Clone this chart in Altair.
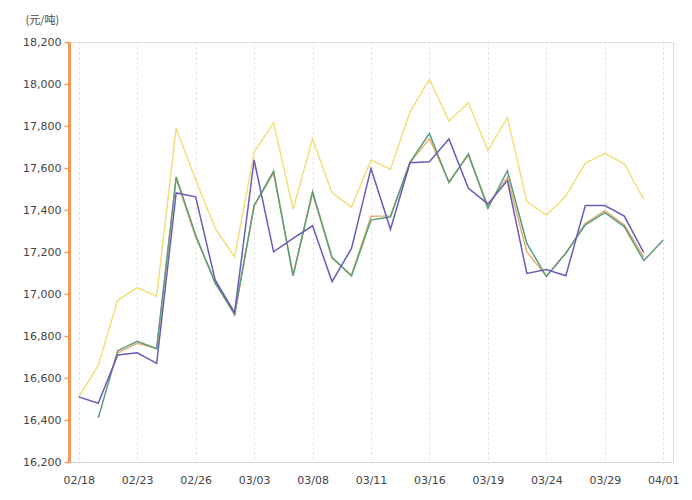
import altair as alt
import pandas as pd

dates = ["02/18", "02/19", "02/22", "02/23", "02/24", "02/25", "02/26", "03/01",
         "03/02", "03/03", "03/04", "03/05", "03/08", "03/09", "03/10", "03/11",
         "03/12", "03/15", "03/16", "03/17", "03/18", "03/19", "03/22", "03/23",
         "03/24", "03/25", "03/26", "03/29", "03/30", "03/31", "04/01"]

yellow = [16510, 16660, 16970, 17030, 16990, 17790, 17543, 17314, 17176, 17674,
          17816, 17405, 17737, 17483, 17413, 17638, 17594, 17867, 18022, 17824,
          17911, 17683, 17841, 17440, 17376, 17467, 17622, 17670, 17619, 17451, None]
tan = [None, None, 16720, 16765, 16740, 17550, 17270, 17060, 16900, 17420,
       17575, 17090, 17480, 17170, 17090, 17370, 17372, 17625, 17740, 17535,
       17660, 17420, 17556, 17200, 17085, 17195, 17337, 17397, 17330, 17175, None]
green = [None, 16410, 16730, 16775, 16740, 17557, 17281, 17052, 16905, 17421,
         17585, 17086, 17487, 17175, 17086, 17352, 17368, 17627, 17765, 17530,
         17667, 17408, 17587, 17241, 17083, 17194, 17329, 17387, 17321, 17159, 17257]
purple = [16510, 16480, 16710, 16720, 16670, 17481, 17463, 17067, 16911, 17638,
          17201, 17265, 17325, 17059, 17217, 17598, 17308, 17625, 17630, 17738,
          17503, 17429, 17540, 17098, 17117, 17087, 17421, 17421, 17371, 17197, None]

series = [("S1", yellow), ("S2", tan), ("S3", green), ("S4", purple)]
colors = ["#F0E07A", "#E2B070", "#5C9C7A", "#6A5CB8"]

rows = []
for name, vals in series:
    for d, v in zip(dates, vals):
        if v is not None:
            rows.append({"date": d, "series": name, "value": v})
df = pd.DataFrame(rows)

tick_dates = dates[::3]

chart = alt.Chart(df).mark_line(strokeWidth=1.5).encode(
    x=alt.X("date:O", sort=dates,
            scale=alt.Scale(type="point", padding=0.5, domain=dates),
            axis=alt.Axis(values=tick_dates, title=None, labelAngle=0,
                          grid=True, gridDash=[2, 3], gridColor="#dcdcdc",
                          ticks=False, domainColor="#d6d6d6", labelPadding=12,
                          labelFont="DejaVu Sans", labelFontSize=11,
                          labelColor="#444")),
    y=alt.Y("value:Q",
            scale=alt.Scale(domain=[16200, 18200], nice=False, zero=False),
            axis=alt.Axis(values=list(range(16200, 18201, 200)), format=",d",
                          grid=False, domainColor="#F29A5C", domainWidth=3,
                          tickColor="#F29A5C", tickSize=5, tickWidth=1.5,
                          labelPadding=3, labelFont="DejaVu Sans",
                          labelFontSize=11, labelColor="#444",
                          title="(元/吨)", titleAngle=0, titleAlign="left",
                          titleBaseline="middle", titleX=-44, titleY=-22,
                          titleFont="Noto Sans CJK SC", titleFontSize=11,
                          titleFontWeight="normal", titleColor="#444")),
    color=alt.Color("series:N", scale=alt.Scale(domain=["S1", "S2", "S3", "S4"], range=colors),
                    legend=None),
    order=alt.Order("series:N"),
).properties(
    width=604, height=420,
    autosize="none",
    padding={"left": 69, "top": 42, "right": 19, "bottom": 38},
).configure_view(stroke=None).configure(background="white")

chart.save("out.html", embed_options={"renderer": "svg", "actions": False})
